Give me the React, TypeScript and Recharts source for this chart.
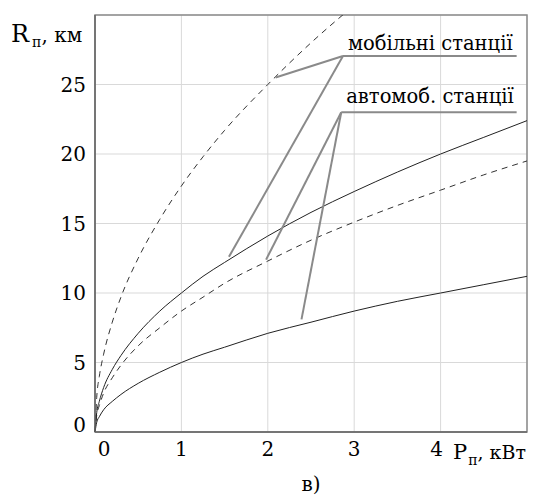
import { LineChart, Line, XAxis, YAxis, CartesianGrid, ReferenceLine, ReferenceArea } from "recharts";

document.body.style.margin = "0";

const FONT = "DejaVu Serif, serif";

// потужність передавача, кВт
const power = [0, 0.02, 0.05, 0.1, 0.2, 0.3, 0.5, 0.75, 1, 1.25, 1.5, 2, 2.5, 3, 3.5, 4, 4.5, 5];
// дальність, км
const mobileSolid = [0, 1.4, 2.2, 3.2, 4.5, 5.5, 7.1, 8.7, 10, 11.2, 12.2, 14.1, 15.8, 17.3, 18.7, 20, 21.2, 22.4];
const mobileDashed = [0, 2.5, 4.0, 5.6, 7.9, 9.7, 12.5, 15.3, 17.7, 19.8, 21.7, 25.0, 28.0, 30.7, null, null, null, null];
const autoSolid = [0, 0.7, 1.1, 1.6, 2.2, 2.7, 3.5, 4.3, 5, 5.6, 6.1, 7.1, 7.9, 8.7, 9.4, 10, 10.6, 11.2];
const autoDashed = [0, 1.2, 1.9, 2.8, 3.9, 4.8, 6.2, 7.5, 8.7, 9.7, 10.7, 12.3, 13.8, 15.1, 16.3, 17.4, 18.5, 19.5];

const xTicks = [0, 1, 2, 3, 4];
const yTicks = [0, 5, 10, 15, 20, 25];

// виноски: вузол і кінці на кривих
const mobileHub = { x: 2.87, y: 27.05 };
const mobileEnds = [{ x: 2.09, y: 25.5 }, { x: 1.55, y: 12.6 }];
const autoHub = { x: 2.85, y: 23.0 };
const autoEnds = [{ x: 1.98, y: 12.4 }, { x: 2.39, y: 8.1 }];
const shelfEnd = 4.88;

const data = power.map((p, i) => ({
  p,
  ms: mobileSolid[i],
  md: mobileDashed[i],
  as: autoSolid[i],
  ad: autoDashed[i],
}));

const XTick = ({ x, y, payload }: any) => (
  <text x={x + (payload.value === 0 ? 9 : payload.value === 4 ? -4 : 0)} y={y + 16} textAnchor="middle"
    fontFamily={FONT} fontSize={20} fill="#000">{payload.value}</text>
);

const YTick = ({ x, y, payload }: any) => (
  <text x={x - 1} y={y + (payload.value === 0 ? 0 : 7)} textAnchor="end"
    fontFamily={FONT} fontSize={20} fill="#000">{payload.value}</text>
);

const calloutText = (txt: string, dy: number) => (props: any) => {
  const vb = props.viewBox || {};
  return (
    <text x={vb.x + 5} y={vb.y - dy} fontFamily={FONT} fontSize={19.5} fill="#000">{txt}</text>
  );
};

const LINE = "#8a8a8a";

export default function App() {
  return (
    <div style={{ position: "relative", width: 536, height: 497, background: "#fff" }}>
      <LineChart width={536} height={497} data={data} margin={{ top: 15, right: 9, bottom: 35, left: 0 }}>
        <CartesianGrid stroke="#d9d9d9" strokeWidth={1} />
        <ReferenceArea x1={0} x2={5} y1={0} y2={30} fill="none" stroke={LINE} strokeWidth={1.5} />
        <XAxis dataKey="p" type="number" domain={[0, 5]} ticks={xTicks} tick={<XTick />} tickLine={false}
          axisLine={{ stroke: "#666", strokeWidth: 1.5 }} height={30} />
        <YAxis type="number" domain={[0, 30]} ticks={yTicks} tick={<YTick />} tickLine={false}
          axisLine={{ stroke: "#666", strokeWidth: 1.5 }} width={95} allowDataOverflow />
        <Line dataKey="md" type="monotone" stroke="#333" strokeWidth={1} strokeDasharray="6 5" dot={false} isAnimationActive={false} />
        <Line dataKey="ad" type="monotone" stroke="#333" strokeWidth={1} strokeDasharray="6 5" dot={false} isAnimationActive={false} />
        <Line dataKey="ms" type="monotone" stroke="#222" strokeWidth={1} dot={false} isAnimationActive={false} />
        <Line dataKey="as" type="monotone" stroke="#222" strokeWidth={1} dot={false} isAnimationActive={false} />
        <ReferenceLine segment={[mobileHub, { x: shelfEnd, y: mobileHub.y }]} stroke={LINE} strokeWidth={2}
          label={calloutText("мобільні станції", 6)} />
        {mobileEnds.map((e, i) => (
          <ReferenceLine key={"m" + i} segment={[mobileHub, e]} stroke={LINE} strokeWidth={2} />
        ))}
        <ReferenceLine segment={[autoHub, { x: shelfEnd, y: autoHub.y }]} stroke={LINE} strokeWidth={2}
          label={calloutText("автомоб. станції", 9)} />
        {autoEnds.map((e, i) => (
          <ReferenceLine key={"a" + i} segment={[autoHub, e]} stroke={LINE} strokeWidth={2} />
        ))}
      </LineChart>
      <svg width={536} height={497} style={{ position: "absolute", left: 0, top: 0, pointerEvents: "none" }}>
        <text x={11} y={42} fontFamily={FONT} fontSize={24} fill="#000">
          R<tspan fontSize={14} dx={3} dy={5}>п</tspan><tspan fontSize={20} dy={-5}>, км</tspan>
        </text>
        <text x={453} y={459} fontFamily={FONT} fontSize={21} fill="#000">
          P<tspan fontSize={14} dx={1} dy={6}>п</tspan><tspan fontSize={19} dy={-6}>, кВт</tspan>
        </text>
        <text x={311} y={491} textAnchor="middle" fontFamily={FONT} fontSize={20} fill="#000">в)</text>
      </svg>
    </div>
  );
}
